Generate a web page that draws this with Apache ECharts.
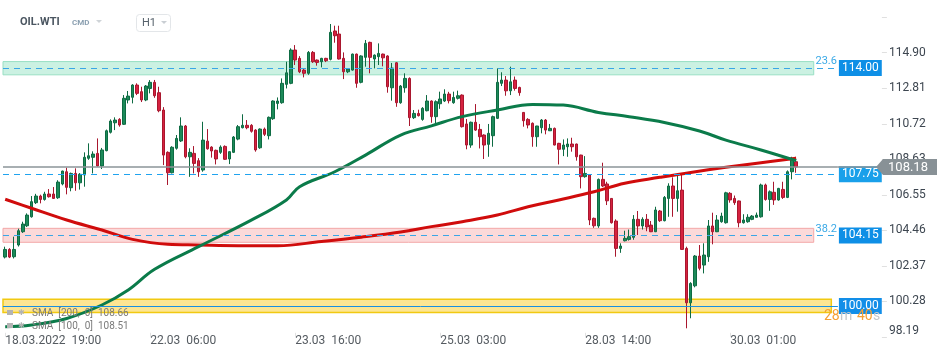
<!DOCTYPE html>
<html><head><meta charset="utf-8">
<script src="https://cdn.jsdelivr.net/npm/echarts@6/dist/echarts.min.js"></script>
<style>html,body{margin:0;padding:0;background:#fff}#c{width:950px;height:360px}</style>
</head><body><div id="c"></div>
<script>
// [open, close, low, high] per hourly candle
const ohlc = [
[102.88,103.33,102.80,103.49],[103.33,102.88,102.82,103.40],[102.90,103.33,102.80,104.08],[103.59,104.43,103.50,104.55],
[104.37,104.82,104.30,104.96],[104.72,105.35,104.65,105.45],[105.25,106.14,105.20,106.47],[106.08,106.47,106.00,106.60],
[106.47,106.27,106.04,106.55],[106.27,106.59,106.20,106.72],[106.59,106.43,106.38,106.88],[106.59,106.33,106.30,107.00],
[106.37,107.29,106.30,107.40],[107.18,107.94,107.10,107.96],[107.90,106.98,106.57,108.14],[106.96,107.80,106.75,107.85],
[107.80,107.25,106.78,108.10],[107.25,107.75,106.85,107.82],[107.71,108.75,107.02,109.04],[108.69,108.84,108.60,109.57],
[108.75,108.94,107.80,109.10],[108.98,108.24,108.20,109.86],[108.24,109.18,108.06,109.30],[109.14,110.31,109.10,110.38],
[110.22,110.88,110.15,110.98],[110.78,110.94,110.35,111.10],[110.98,110.65,110.55,111.05],[110.69,112.22,110.65,112.41],
[112.12,112.35,111.92,112.65],[112.28,113.00,111.92,113.05],[113.00,112.51,112.41,113.10],[112.61,112.12,112.00,112.90],
[112.12,112.94,112.05,113.00],[112.80,113.16,112.51,113.29],[113.16,112.37,112.25,113.30],[112.55,111.49,111.40,112.90],
[111.53,108.88,108.29,111.70],[109.04,107.84,107.12,109.10],[107.84,109.34,107.80,109.40],[109.28,109.86,109.20,110.06],
[109.71,110.59,109.65,111.10],[110.59,108.78,108.69,110.65],[108.78,109.04,107.60,109.28],[108.98,108.39,107.80,109.41],
[108.55,107.90,107.60,108.70],[108.00,109.76,107.90,110.84],[109.70,109.25,109.20,110.41],[109.35,109.12,108.73,109.40],
[109.16,108.65,108.33,109.20],[109.04,109.35,108.95,109.45],[109.39,108.63,108.60,109.45],[108.65,109.08,108.35,109.10],
[109.04,109.94,109.00,110.00],[109.82,110.55,109.75,110.65],[110.49,110.63,110.45,111.28],[110.63,110.49,110.40,110.94],
[110.63,110.28,110.20,110.70],[110.35,109.18,109.08,110.40],[109.31,110.41,109.25,110.45],[110.41,110.10,110.00,110.50],
[110.02,111.10,109.80,111.15],[111.02,112.06,110.95,112.10],[111.92,112.06,111.57,112.27],[111.96,113.10,111.90,113.39],
[113.04,113.72,112.80,114.37],[113.10,115.06,113.05,115.16],[115.06,114.47,114.18,115.35],[114.57,113.78,113.70,114.70],
[113.88,113.69,113.45,113.95],[113.69,114.92,113.60,115.00],[114.92,114.37,114.30,115.00],[114.47,114.33,114.14,114.50],
[114.37,114.57,114.04,114.60],[114.57,114.43,114.35,114.60],[114.51,116.10,114.45,116.59],[116.18,115.90,115.49,116.49],
[116.00,114.53,114.50,116.49],[114.57,113.78,113.35,114.92],[113.78,113.94,113.70,114.00],[113.88,114.82,113.85,114.85],
[114.82,113.10,112.84,114.85],[113.16,114.71,113.10,114.75],[114.63,115.45,114.08,115.65],[115.51,114.63,113.69,115.55],
[114.53,114.76,113.98,114.80],[114.67,114.86,114.18,115.45],[114.82,114.60,114.10,114.85],[114.71,112.90,112.55,114.75],
[112.84,114.00,112.08,114.30],[114.31,111.96,111.72,114.35],[111.96,112.94,111.90,113.00],[112.84,113.39,112.55,113.69],
[113.39,111.08,110.59,113.45],[111.08,111.33,111.00,111.53],[111.33,111.20,111.15,111.55],[110.98,111.63,110.90,111.70],
[111.49,112.06,111.45,112.41],[112.06,111.14,110.78,112.10],[111.14,112.02,110.75,112.10],[111.90,112.18,111.60,112.61],
[112.06,112.47,112.00,112.75],[112.47,112.08,111.92,112.60],[111.96,112.27,111.90,112.61],[112.22,112.37,112.15,112.67],
[112.41,110.55,110.50,112.45],[110.71,109.47,109.22,111.00],[109.47,110.81,109.31,110.85],[110.81,110.35,110.30,111.88],
[110.39,109.96,109.27,110.71],[110.06,109.47,108.65,110.10],[109.51,110.16,108.78,110.71],[110.02,111.14,109.37,111.20],
[111.04,113.16,111.00,113.98],[113.10,113.29,112.94,113.75],[113.29,112.66,112.37,113.53],[112.66,113.19,112.41,114.08],
[113.29,112.80,112.67,113.50],[112.86,112.55,112.37,112.90],[111.39,110.90,110.55,111.40],[110.98,110.65,110.45,111.05],
[110.75,109.96,109.37,110.80],[109.96,110.59,109.37,110.60],[110.49,110.94,110.16,111.00],[110.94,110.35,110.10,111.00],
[110.31,110.45,110.30,110.71],[110.45,109.47,109.45,110.50],[109.57,109.22,108.33,109.60],[109.22,109.47,108.82,109.80],
[109.37,109.53,108.78,109.86],[109.53,109.37,109.08,109.90],[109.53,108.78,108.55,109.55],[108.88,107.61,106.92,108.90],
[107.61,107.80,107.55,108.82],[107.71,105.06,104.76,107.75],[105.16,104.72,104.60,105.20],[104.71,107.45,104.60,107.50],
[107.45,107.06,107.00,108.43],[107.18,106.19,105.94,107.31],[106.33,104.90,104.85,106.35],[105.00,103.39,102.90,105.10],
[103.39,103.53,103.13,103.69],[103.84,103.98,103.80,104.43],[103.92,104.08,103.85,104.50],[104.04,105.10,103.90,105.35],
[105.10,104.71,104.18,105.59],[104.71,105.10,104.50,105.22],[105.10,104.65,104.40,105.41],[104.76,104.37,104.35,105.00],
[104.37,105.65,104.35,105.84],[105.59,105.02,104.95,105.65],[105.02,106.39,104.98,106.47],[106.33,107.06,105.25,107.22],
[107.06,106.33,105.25,107.57],[106.33,106.78,105.55,107.75],[106.82,103.33,103.30,107.81],[103.39,100.19,98.69,103.49],
[100.19,101.33,99.28,101.40],[101.19,102.94,101.10,103.00],[102.94,102.22,102.10,103.59],[102.41,103.00,101.92,103.69],
[102.90,104.71,102.60,105.06],[104.71,104.37,103.63,105.49],[104.37,105.06,104.35,105.35],[104.96,105.29,104.90,105.49],
[104.90,106.66,104.85,106.72],[106.63,106.24,106.08,106.70],[106.33,106.08,105.95,106.50],[106.18,104.90,104.63,106.20],
[104.90,105.06,104.85,105.40],[104.96,105.22,104.90,105.40],[105.10,105.29,105.05,105.35],[105.22,105.35,105.20,105.50],
[105.25,107.12,105.20,107.20],[107.12,106.27,106.20,107.20],[106.27,106.72,105.60,106.80],[106.69,106.24,105.95,107.31],
[106.24,106.92,106.20,106.95],[106.86,106.39,106.30,107.31],[106.39,107.90,106.35,107.98],[107.90,108.69,107.45,108.78],
[108.49,108.18,107.84,108.78]
];
// moving averages read at sample candles: [candleIndex, value]
const sma200 = [[0,106.28],[6,105.75],[14,105.06],[22,104.47],[29,103.92],[37,103.63],[44,103.59],[53,103.55],[62,103.55],
  [72,103.80],[81,104.05],[90,104.35],[97,104.67],[104,104.96],[112,105.35],[119,105.84],[126,106.24],[134,106.72],
  [141,107.22],[149,107.57],[156,107.86],[164,108.16],[172,108.43],[180,108.69]];
const sma100 = [[0,98.78],[6,98.88],[14,99.27],[22,100.06],[28,100.94],[34,102.16],[44,103.49],[56,105.05],[64,106.24],
  [67,107.02],[75,107.90],[82,108.88],[90,110.06],[97,110.60],[104,111.14],[112,111.53],[120,111.86],[127,111.82],
  [135,111.39],[142,111.14],[150,110.80],[158,110.30],[164,109.76],[172,109.18],[180,108.55]];

const extraSlots = 9;
const xTickIdx = [0, 33, 66, 99, 132, 165];
const xTickLabels = ['18.03.2022  19:00', '22.03  06:00', '23.03  16:00', '25.03  03:00', '28.03  14:00', '30.03  01:00'];
const yTickLabels = ['98.19','100.28','102.37','104.46','106.55','108.63','110.72','112.81','114.90'];
const yMin = 98.19, yStep = 2.08875, yMax = 117.12;

const levelValues = [114.00, 107.75, 104.15, 100.00];
const levelFib = ['23.6', '', '38.2', ''];
const zoneLow = [113.60, 103.75, 99.62];
const zoneHigh = [114.38, 104.57, 100.40];
const lastPrice = 108.18;
const legendTexts = ['SMA  [200,  0]  108.66', 'SMA  [100,  0]  108.51'];
const timerParts = ['28', 'm', '40', 's'];

const categories = [];
for (let i = 0; i < ohlc.length + extraSlots; i++) categories.push('c' + i);

const chart = echarts.init(document.getElementById('c'), null, {renderer: 'canvas'});

const lvlStyles = [
  {type: [6, 5], color: '#3aa6e6', bg: '#0e8fe6'},
  {type: [6, 5], color: '#1fa3ef', bg: '#19a0ea'},
  {type: [6, 5], color: '#3aa6e6', bg: '#0e8fe6'},
  {type: 'solid', color: '#1a8fe0', bg: '#128ee8'}
];
const mlData = [];
levelValues.forEach((v, k) => {
  const s = lvlStyles[k];
  mlData.push({
    yAxis: v,
    lineStyle: {type: s.type, color: s.color, width: 1},
    label: {show: true, position: 'end', distance: 1, formatter: v.toFixed(2), backgroundColor: s.bg,
      color: '#fff', fontSize: 12, fontFamily: 'Roboto', padding: [2, 3, 1, 3], lineHeight: 13}
  });
  if (levelFib[k]) {
    mlData.push({
      yAxis: v, lineStyle: {color: 'rgba(0,0,0,0)', width: 0},
      label: {show: true, position: 'insideEndTop', distance: 1, formatter: levelFib[k], color: '#3aa9e6',
        fontSize: 11, fontFamily: 'Roboto', opacity: 1}
    });
  }
});
mlData.push({yAxis: lastPrice, lineStyle: {type: 'solid', color: '#8b9499', width: 1.5}, label: {show: false}});

const zoneStyles = [
  {color: 'rgba(168,232,206,0.6)', borderColor: '#98dfc3', borderWidth: 1, end: 'c184'},
  {color: 'rgba(248,186,186,0.55)', borderColor: '#f3a7a7', borderWidth: 1, end: 'c184'},
  {color: 'rgba(252,218,100,0.7)', borderColor: '#f1c912', borderWidth: 1.5, end: 'c188'}
];
const maData = zoneLow.map((lo, k) => [
  {yAxis: lo, itemStyle: {color: zoneStyles[k].color, borderColor: zoneStyles[k].borderColor, borderWidth: zoneStyles[k].borderWidth}},
  {xAxis: zoneStyles[k].end, yAxis: zoneHigh[k]}
]);

chart.setOption({
  animation: false,
  textStyle: {fontFamily: 'Roboto'},
  grid: {left: 3, right: 112.1, top: 15, bottom: 23.2},
  xAxis: {
    type: 'category', data: categories, boundaryGap: true,
    axisLine: {show: false},
    axisTick: {show: true, alignWithLabel: true, inside: true, length: 4,
      interval: (i) => xTickIdx.includes(i), lineStyle: {color: '#e2e2e2'}},
    axisLabel: {interval: (i) => xTickIdx.includes(i), align: 'left', margin: -2, color: '#555b61',
      fontSize: 12, fontFamily: 'Roboto',
      formatter: (v, i) => { const k = xTickIdx.indexOf(i); return k >= 0 ? xTickLabels[k] : ''; }},
    splitLine: {show: false}
  },
  yAxis: {
    type: 'value', position: 'right', offset: 44, min: yMin, max: yMax, interval: yStep,
    axisLine: {show: false},
    axisTick: {show: true, length: 5, lineStyle: {color: '#e0e0e0'}},
    splitLine: {show: false},
    axisLabel: {margin: 7, color: '#3d4650', fontSize: 12, fontFamily: 'Roboto', showMinLabel: true, showMaxLabel: false,
      verticalAlignMinLabel: 'bottom',
      formatter: (v) => {
        const k = Math.round((v - yMin) / yStep);
        if (Math.abs(v - (yMin + k * yStep)) > 0.01) return '';
        return yTickLabels[k] || '';
      }}
  },
  series: [
    {
      type: 'candlestick', data: ohlc, barWidth: 3, z: 2, silent: true,
      itemStyle: {color: '#1c8a59', color0: '#d62240', borderColor: '#0e6b43', borderColor0: '#a9172e', borderWidth: 1}
    },
    {type: 'line', data: sma200, smooth: 0.4, symbol: 'none', z: 3, silent: true,
      lineStyle: {color: '#d00c0c', width: 3}},
    {type: 'line', data: sma100, smooth: 0.4, symbol: 'none', z: 3, silent: true,
      lineStyle: {color: '#0b7b4a', width: 3}},
    {type: 'line', data: [], z: 4, silent: true,
      markLine: {symbol: ['none', 'none'], silent: true, animation: false, data: mlData}},
    {type: 'line', data: [], z: 5, silent: true,
      markArea: {silent: true, animation: false, data: maData}}
  ]
});

const yc = chart.convertToPixel({yAxisIndex: 0}, lastPrice);
const g = [];
// header
g.push({type: 'text', x: 20, y: 22, style: {text: 'OIL.WTI', font: 'bold 11px Roboto', fill: '#4b5661', textVerticalAlign: 'middle', verticalAlign: 'middle'}});
g.push({type: 'text', x: 72, y: 23, style: {text: 'CMD', font: 'bold 8px Roboto', fill: '#8a9fb0', textVerticalAlign: 'middle', verticalAlign: 'middle'}});
g.push({type: 'polygon', shape: {points: [[96, 20], [102, 20], [99, 23]]}, style: {fill: '#cfd4d8'}});
g.push({type: 'rect', shape: {x: 136.5, y: 14.5, width: 34, height: 17, r: 3}, style: {fill: '#fff', stroke: '#e3e6e9', lineWidth: 1}});
g.push({type: 'text', x: 142, y: 23, style: {text: 'H1', font: '11px Roboto', fill: '#56616b', textVerticalAlign: 'middle', verticalAlign: 'middle'}});
g.push({type: 'polygon', shape: {points: [[161, 21], [167, 21], [164, 24]]}, style: {fill: '#c9ced3'}});
// legend rows
legendTexts.forEach((t, k) => {
  const y = 313 + 13 * k;
  g.push({type: 'rect', z: 20, shape: {x: 7, y: y - 3, width: 6, height: 5}, style: {fill: '#b3b3b3'}});
  g.push({type: 'text', z: 20, x: 18, y: y, style: {text: '✱', font: '8px DejaVu Sans', fill: '#b3b3b3', textVerticalAlign: 'middle', verticalAlign: 'middle'}});
  g.push({type: 'text', z: 20, x: 32, y: y, style: {text: t, font: '10px Roboto', fill: '#7a7a7a', textVerticalAlign: 'middle', verticalAlign: 'middle'}});
});
// countdown
const tx = [824, 840, 857, 873];
timerParts.forEach((t, k) => {
  g.push({type: 'text', z: 20, x: tx[k], y: 316, style: {text: t, font: '14px Roboto', fill: (k % 2 === 0) ? '#f6a033' : '#c3c6c9', textVerticalAlign: 'middle', verticalAlign: 'middle'}});
});
// price tag
g.push({type: 'line', z: 90, shape: {x1: 838, y1: yc, x2: 878, y2: yc}, style: {stroke: '#8b9499', lineWidth: 1.5}});
g.push({type: 'polygon', z: 100, shape: {points: [[876, yc], [883, yc - 8], [937, yc - 8], [937, yc + 8], [883, yc + 8]]}, style: {fill: '#889196'}});
g.push({type: 'text', z: 101, x: 908, y: yc + 0.5, style: {text: lastPrice.toFixed(2), font: '13px Roboto', fill: '#ffffff', textAlign: 'center', align: 'center', textVerticalAlign: 'middle', verticalAlign: 'middle'}});
chart.setOption({graphic: g});
</script>
</body></html>
